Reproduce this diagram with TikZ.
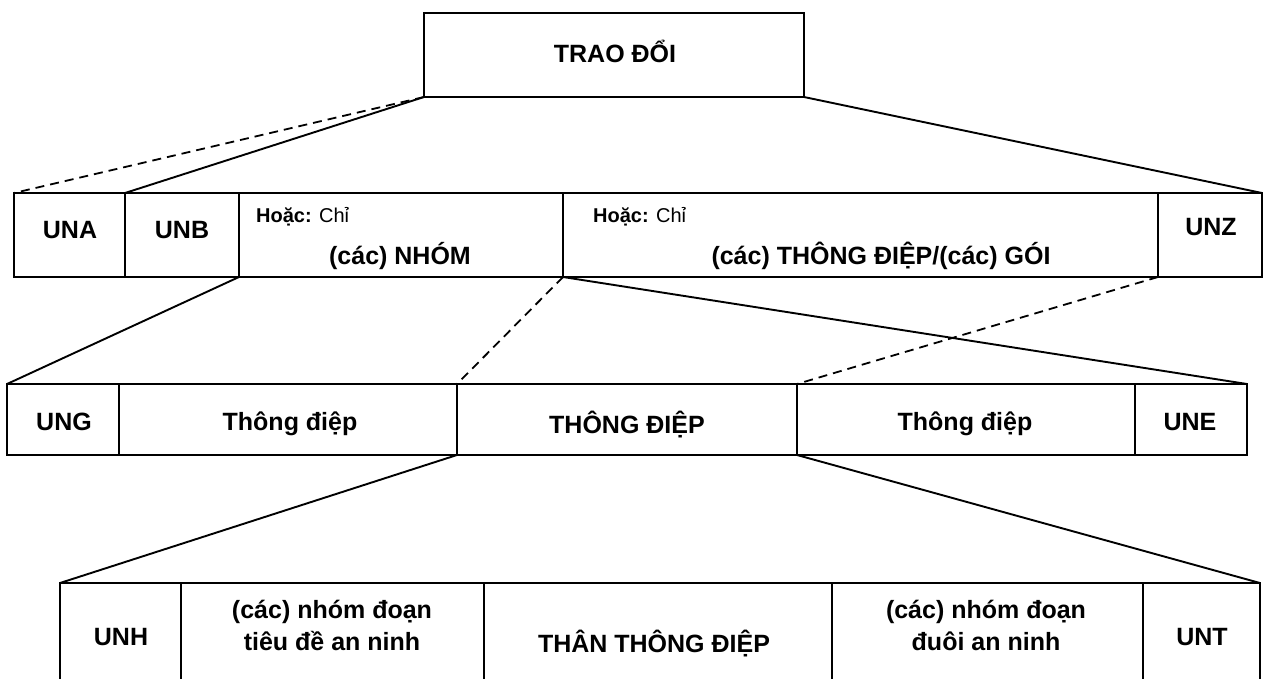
\documentclass[tikz,border=0pt]{standalone}
\usepackage{fontspec}
\setmainfont{Liberation Sans}
\begin{document}
\begin{tikzpicture}[x=1pt,y=-1pt,
  cell/.style={draw,line width=2pt,inner sep=0pt,outer sep=0pt,anchor=north west},
  conn/.style={line width=1.9pt},
  dconn/.style={line width=1.8pt,dash pattern=on 9pt off 6pt},
  lbl/.style={font=\fontsize{25}{30}\selectfont\bfseries,inner sep=0pt,anchor=base},
  small/.style={font=\fontsize{20}{24}\selectfont,inner sep=0pt,anchor=base west}]
\useasboundingbox (0,0) rectangle (1264,678);
\begin{scope}
\clip (0,0) rectangle (1264,678);
% top
\node[cell,minimum width=380pt,minimum height=84pt] (top) at (424,13) {};
% row 1
\node[cell,minimum width=111pt,minimum height=84pt] (una) at (14,193) {};
\node[cell,minimum width=114pt,minimum height=84pt] (unb) at (125,193) {};
\node[cell,minimum width=324pt,minimum height=84pt] (nhom) at (239,193) {};
\node[cell,minimum width=595pt,minimum height=84pt] (td) at (563,193) {};
\node[cell,minimum width=104pt,minimum height=84pt] (unz) at (1158,193) {};
% row 2
\node[cell,minimum width=112pt,minimum height=71pt] (ung) at (7,384) {};
\node[cell,minimum width=338pt,minimum height=71pt] (tda) at (119,384) {};
\node[cell,minimum width=340pt,minimum height=71pt] (tdm) at (457,384) {};
\node[cell,minimum width=338pt,minimum height=71pt] (tdb) at (797,384) {};
\node[cell,minimum width=112pt,minimum height=71pt] (une) at (1135,384) {};
% row 3
\node[cell,minimum width=121pt,minimum height=120pt] (unh) at (60,583) {};
\node[cell,minimum width=303pt,minimum height=120pt] (hdr) at (181,583) {};
\node[cell,minimum width=348pt,minimum height=120pt] (body) at (484,583) {};
\node[cell,minimum width=311pt,minimum height=120pt] (trl) at (832,583) {};
\node[cell,minimum width=117pt,minimum height=120pt] (unt) at (1143,583) {};
\end{scope}
% labels
\node[lbl] (t0) at (615,62) {TRAO ĐỔI};
\node[lbl] (t1) at (70,238) {UNA};
\node[lbl] (t2) at (182,238) {UNB};
\node[small] (t3) at (256,222) {\bfseries Hoặc:\mdseries{} Chỉ};
\node[lbl] (t4) at (400,264) {(các) NHÓM};
\node[small] (t5) at (593,222) {\bfseries Hoặc:\mdseries{} Chỉ};
\node[lbl] (t6) at (881,264) {(các) THÔNG ĐIỆP/(các) GÓI};
\node[lbl] (t7) at (1211,235) {UNZ};
\node[lbl] (t8) at (64,430) {UNG};
\node[lbl] (t9) at (290,430) {Thông điệp};
\node[lbl] (t10) at (627,433) {THÔNG ĐIỆP};
\node[lbl] (t11) at (965,430) {Thông điệp};
\node[lbl] (t12) at (1190,430) {UNE};
\node[lbl] (t13) at (121,645) {UNH};
\node[lbl] (t14a) at (332,618) {(các) nhóm đoạn};
\node[lbl] (t14b) at (332,650) {tiêu đề an ninh};
\node[lbl] (t15) at (654,652) {THÂN THÔNG ĐIỆP};
\node[lbl] (t16a) at (986,618) {(các) nhóm đoạn};
\node[lbl] (t16b) at (986,650) {đuôi an ninh};
\node[lbl] (t17) at (1202,645) {UNT};
% connectors
\draw[dconn] (top.south west) -- (una.north west);
\draw[conn] (top.south west) -- (unb.north west);
\draw[conn] (top.south east) -- (unz.north east);
\draw[conn] (nhom.south west) -- (ung.north west);
\draw[dconn] (td.south west) -- (tdm.north west);
\draw[conn] (td.south west) -- (une.north east);
\draw[dconn] (unz.south west) -- (tdb.north west);
\draw[conn] (tdm.south west) -- (unh.north west);
\draw[conn] (tdm.south east) -- (unt.north east);
\end{tikzpicture}
\end{document}
